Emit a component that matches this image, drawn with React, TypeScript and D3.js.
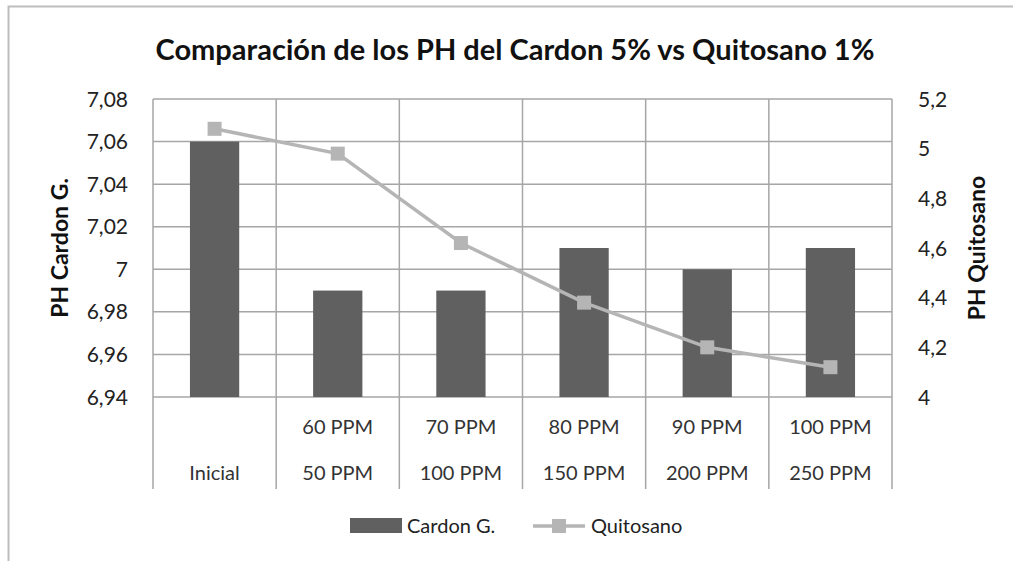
import React from 'react';
import { scaleBand, scaleLinear, line } from 'd3';

const width = 1013;
const height = 561;
const margin = { top: 99, right: 121, bottom: 164, left: 153 };
const innerWidth = width - margin.left - margin.right;
const innerHeight = height - margin.top - margin.bottom;

// category labels: upper row (Cardon dose) and lower row (Quitosano dose)
const doseCardon = ['', '60 PPM', '70 PPM', '80 PPM', '90 PPM', '100 PPM'];
const doseQuitosano = ['Inicial', '50 PPM', '100 PPM', '150 PPM', '200 PPM', '250 PPM'];

const cardonValues = [7.06, 6.99, 6.99, 7.01, 7.0, 7.01];
const quitosanoValues = [5.08, 4.98, 4.62, 4.38, 4.2, 4.12];

const leftTicks = [6.94, 6.96, 6.98, 7.0, 7.02, 7.04, 7.06, 7.08];
const rightTicks = [4, 4.2, 4.4, 4.6, 4.8, 5, 5.2];

const font = 'Lato, "Open Sans", sans-serif';
const gridColor = '#a6a6a6';
const barColor = '#606060';
const lineColor = '#b5b5b5';
const fmt = (v: number) => String(Number(v.toFixed(2))).replace('.', ',');

function App() {
  const xScale = scaleBand<number>()
    .domain(doseQuitosano.map((_, i) => i))
    .range([0, innerWidth])
    .paddingInner(0)
    .paddingOuter(0);

  const yLeft = scaleLinear().domain([6.94, 7.08]).range([innerHeight, 0]);
  const yRight = scaleLinear().domain([4, 5.2]).range([innerHeight, 0]);

  const bw = xScale.bandwidth();
  const barW = bw * 0.4;
  const cx = (i: number) => (xScale(i) ?? 0) + bw / 2;

  const linePath = line<number>()
    .x((_, i) => cx(i))
    .y(d => yRight(d))(quitosanoValues);

  const sep = [...xScale.domain().map(i => xScale(i) ?? 0), innerWidth];
  const labelDepth = 92;
  const ms = 14;

  return (
    <svg width={width} height={height} style={{ position: 'absolute', left: 0, top: 0, background: '#fff' }}>
      {/* outer chart border */}
      <rect x={8.5} y={6.5} width={width + 20} height={height + 20} fill="#fff" stroke="#bdbdbd" strokeWidth={2} />

      <text x={515} y={60} textAnchor="middle" fontFamily={font} fontWeight={700} fontSize={29} fill="#111">
        Comparación de los PH del Cardon 5% vs Quitosano 1%
      </text>

      <g transform={`translate(${margin.left}, ${margin.top})`}>
        {/* horizontal gridlines */}
        {leftTicks.map(t => (
          <line key={t} x1={0} x2={innerWidth} y1={yLeft(t)} y2={yLeft(t)} stroke={gridColor} strokeWidth={1.5} />
        ))}
        {/* vertical category separators, down through the label area */}
        {sep.map((x, i) => (
          <line key={i} x1={x} x2={x} y1={0} y2={innerHeight + labelDepth} stroke={gridColor} strokeWidth={1.5} />
        ))}

        {cardonValues.map((v, i) => (
          <rect
            key={i}
            x={cx(i) - barW / 2}
            y={yLeft(v)}
            width={barW}
            height={innerHeight - yLeft(v)}
            fill={barColor}
          />
        ))}

        <path d={linePath ?? ''} fill="none" stroke={lineColor} strokeWidth={3.5} />
        {quitosanoValues.map((v, i) => (
          <rect key={i} x={cx(i) - ms / 2} y={yRight(v) - ms / 2} width={ms} height={ms} fill={lineColor} />
        ))}

        {/* left axis ticks */}
        {leftTicks.map(t => (
          <text key={t} x={-25} y={yLeft(t)} dy="0.36em" textAnchor="end" fontFamily={font} fontSize={21} fill="#222">
            {fmt(t)}
          </text>
        ))}
        {/* right axis ticks */}
        {rightTicks.map(t => (
          <text key={t} x={innerWidth + 26} y={yRight(t)} dy="0.36em" textAnchor="start" fontFamily={font} fontSize={21} fill="#222">
            {fmt(t)}
          </text>
        ))}

        {/* category labels */}
        {doseCardon.map((d, i) => (
          <text key={'a' + i} x={cx(i)} y={innerHeight + 30} dy="0.36em" textAnchor="middle" fontFamily={font} fontSize={20} fill="#333">
            {d}
          </text>
        ))}
        {doseQuitosano.map((d, i) => (
          <text key={'b' + i} x={cx(i)} y={innerHeight + 76} dy="0.36em" textAnchor="middle" fontFamily={font} fontSize={20} fill="#333">
            {d}
          </text>
        ))}

        {/* axis titles */}
        <text
          transform={`translate(${60 - margin.left}, ${248 - margin.top}) rotate(-90)`}
          textAnchor="middle"
          dy="0.36em"
          fontFamily={font}
          fontWeight={700}
          fontSize={23}
          fill="#111"
        >
          PH Cardon G.
        </text>
        <text
          transform={`translate(${977 - margin.left}, ${248 - margin.top}) rotate(-90)`}
          textAnchor="middle"
          dy="0.36em"
          fontFamily={font}
          fontWeight={700}
          fontSize={23}
          fill="#111"
        >
          PH Quitosano
        </text>
      </g>

      {/* legend */}
      <g fontFamily={font} fontSize={20} fill="#222">
        <rect x={350} y={518} width={52} height={15} fill={barColor} />
        <text x={407} y={526} dy="0.36em">Cardon G.</text>
        <line x1={533} x2={585} y1={526} y2={526} stroke={lineColor} strokeWidth={3.5} />
        <rect x={559 - ms / 2} y={526 - ms / 2} width={ms} height={ms} fill={lineColor} />
        <text x={591} y={526} dy="0.36em">Quitosano</text>
      </g>
    </svg>
  );
}

export default App;
